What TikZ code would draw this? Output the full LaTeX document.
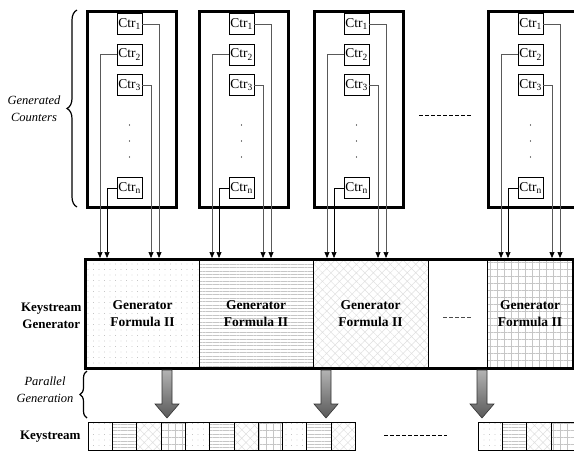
\documentclass[tikz,border=0pt]{standalone}
\usepackage{fontspec}
\setmainfont{Liberation Serif}
\usetikzlibrary{arrows.meta, patterns.meta, decorations.pathreplacing, positioning}

\tikzset{
  colbox/.style={draw, line width=2.6pt, inner sep=0pt},
  ctrbox/.style={draw, line width=0.6pt, fill=white, inner sep=0pt,
    minimum width=25pt, minimum height=21pt, font=\fontsize{13.5}{13.5}\selectfont},
  feed/.style={gray!70!black, line width=0.7pt, -{Triangle[length=6pt,width=5pt,color=black]}},
  gensec/.style={draw, line width=0.6pt, inner sep=0pt, minimum height=108pt,
    align=center, font=\fontsize{13.5}{17}\selectfont\bfseries},
  kcell/.style={draw, line width=0.6pt, inner sep=0pt, minimum width=24.3pt, minimum height=28pt},
  pdots/.style={pattern={Dots[distance=5.5pt,radius=0.45pt]}, pattern color=gray!70},
  plines/.style={pattern={Lines[angle=0,distance=3.4pt,line width=0.6pt]}, pattern color=gray!45},
  phatch/.style={pattern={Hatch[angle=45,distance=6pt,line width=0.5pt]}, pattern color=gray!25},
  pgrid/.style={pattern={Hatch[angle=0,distance=7pt,line width=0.5pt]}, pattern color=gray!45},
  bigarrow/.style={draw=gray!40!black, line width=0.6pt, top color=gray!60, bottom color=gray!70!black},
  lbl/.style={font=\fontsize{13}{17}\selectfont\bfseries, align=center},
  ilbl/.style={font=\fontsize{12.5}{17}\selectfont\itshape, align=center}
}

\begin{document}
\begin{tikzpicture}[x=1pt,y=-1pt]
  \useasboundingbox (0,0) rectangle (574,451);

  % counter columns
  \foreach \x [count=\k] in {86,198,313,487} {
    \node[colbox, anchor=north west, minimum width=89pt, minimum height=196pt] (col\k) at (\x,10) {};
    \node[ctrbox] (c\k-1) at (\x+43.5,24) {Ctr\textsubscript{1}};
    \node[ctrbox] (c\k-2) at (\x+43.5,54.5) {Ctr\textsubscript{2}};
    \node[ctrbox] (c\k-3) at (\x+43.5,85) {Ctr\textsubscript{3}};
    \node[ctrbox] (c\k-n) at (\x+43.5,188) {Ctr\textsubscript{n}};
    \foreach \y in {125,141,157} \fill (\x+43.5,\y) circle (0.6pt);
    \coordinate (t\k-1) at (\x+73,258);
    \coordinate (t\k-2) at (\x+14,258);
    \coordinate (t\k-3) at (\x+65,258);
    \coordinate (t\k-n) at (\x+21,258);
    \draw[feed] (c\k-1.east) -| (t\k-1);
    \draw[feed] (c\k-2.west) -| (t\k-2);
    \draw[feed] (c\k-3.east) -| (t\k-3);
    \draw[feed, black] (c\k-n.west) -| (t\k-n);
  }
  \draw[dashed, dash pattern=on 4pt off 2pt, line width=0.6pt] (419,115) -- (471,115);

  % keystream generator
  \node[gensec, pdots, minimum width=113pt] (g1) at (142.5,314) {Generator\\Formula II};
  \node[gensec, plines, minimum width=114pt] (g2) at (256,314) {Generator\\Formula II};
  \node[gensec, phatch, minimum width=115pt] (g3) at (370.5,314) {Generator\\Formula II};
  \node[gensec, minimum width=59pt] (g4) at (457.5,314) {};
  \node[gensec, pgrid, minimum width=86pt] (g5) at (530,314) {Generator\\Formula II};
  \draw[gray!60!black, dashed, dash pattern=on 4pt off 2pt, line width=0.6pt] (443,317) -- (471,317);
  \draw[line width=2.6pt] (g1.north west) rectangle (g5.south east);

  % parallel generation
  \foreach \x in {167,326,482}
    \shade[bigarrow] (\x-5,370) -- (\x+5,370) -- (\x+5,404) -- (\x+12,404)
      -- (\x,418) -- (\x-12,404) -- (\x-5,404) -- cycle;

  % keystream
  \foreach \s [count=\i from 0] in {pdots,plines,phatch,pgrid,pdots,plines,phatch,pgrid,pdots,plines,phatch}
    \node[kcell,\s] (k\i) at (100.15+24.3*\i,436) {};
  \foreach \s [count=\i from 0] in {pdots,plines,phatch,pgrid}
    \node[kcell,\s] (r\i) at (490.15+24.3*\i,436) {};
  \draw[dashed, dash pattern=on 4pt off 2pt, line width=0.6pt] (384,435) -- (447,435);

  % labels and braces
  \draw[line width=1.2pt, decorate, decoration={brace, amplitude=10pt}] (77,207) -- (77,10);
  \node[ilbl] (lgc) at (34,109) {Generated\\Counters};
  \node[lbl, anchor=east] (lkg) at (85,316) {Keystream\\Generator};
  \draw[line width=1.2pt, decorate, decoration={brace, amplitude=7pt}] (87,418) -- (87,371);
  \node[ilbl] (lpg) at (45,390) {Parallel\\Generation};
  \node[lbl, anchor=east] (lks) at (84,437) {Keystream};
\end{tikzpicture}
\end{document}
